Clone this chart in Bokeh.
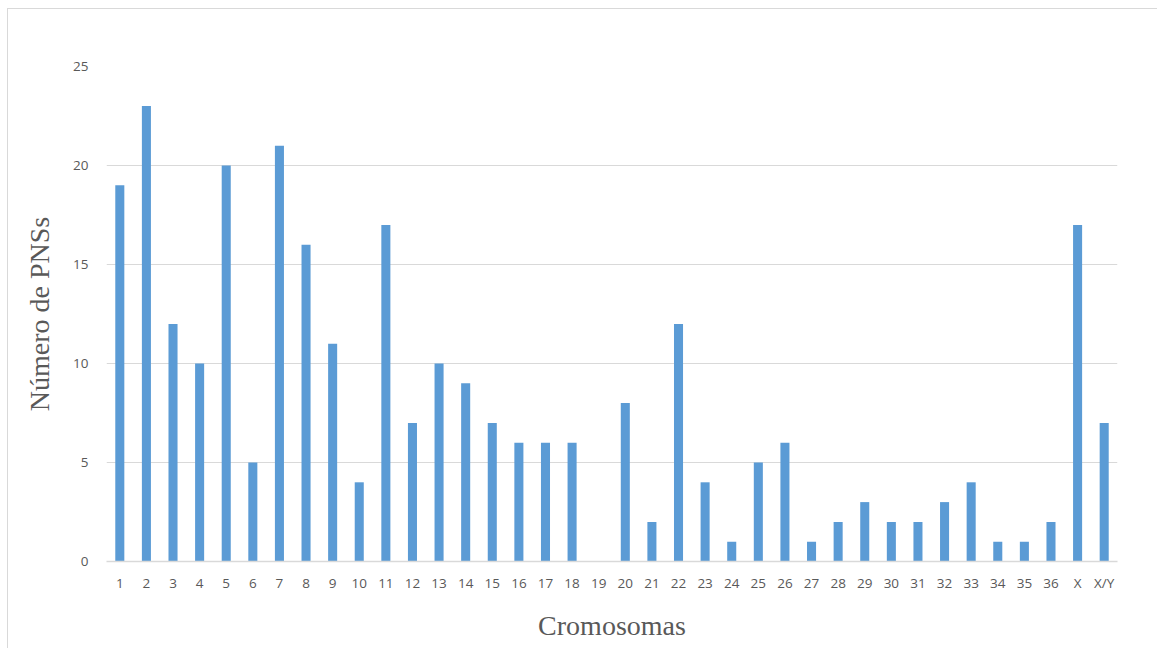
from bokeh.plotting import figure
from bokeh.models import ColumnDataSource, FactorRange, Range1d
from bokeh.embed import file_html
from bokeh.resources import INLINE

categories = [str(i) for i in range(1, 37)] + ["X", "X/Y"]
counts = [19, 23, 12, 10, 20, 5, 21, 16, 11, 4, 17, 7, 10, 9, 7, 6, 6, 6, 0, 8,
          2, 12, 4, 1, 5, 6, 1, 2, 3, 2, 2, 3, 4, 1, 1, 2, 17, 7]
y_ticks = [0, 5, 10, 15, 20, 25]

src = ColumnDataSource(dict(cat=categories, n=counts))

p = figure(x_range=FactorRange(*categories, range_padding=0),
           y_range=Range1d(0, 25),
           width=1150, height=640,
           output_backend="svg", toolbar_location=None,
           min_border_left=98, min_border_right=41,
           min_border_top=57, min_border_bottom=88)
p.margin = (8, 0, 0, 7)
p.styles = {"border-left": "1px solid #d9d9d9", "border-top": "1px solid #d9d9d9"}

p.vbar(x="cat", top="n", width=0.34, source=src, color="#5B9BD5", line_color=None)

p.outline_line_color = None
p.background_fill_color = "white"
p.border_fill_color = "white"

p.yaxis.ticker = y_ticks
p.ygrid.ticker = y_ticks
p.ygrid.grid_line_color = "#d9d9d9"
p.xgrid.grid_line_color = None

for ax in (p.xaxis, p.yaxis):
    ax.major_tick_line_color = None
    ax.minor_tick_line_color = None
    ax.major_label_text_font = "Open Sans"
    ax.major_label_text_font_size = "13.5px"
    ax.major_label_text_color = "#595959"
    ax.axis_label_text_font = "Liberation Serif"
    ax.axis_label_text_font_size = "28px"
    ax.axis_label_text_font_style = "normal"
    ax.axis_label_text_color = "#595959"

p.yaxis.axis_line_color = None
p.xaxis.axis_line_color = "#d9d9d9"
p.xaxis.axis_line_width = 1.5
p.yaxis.major_label_standoff = 12
p.xaxis.major_label_standoff = 6
p.yaxis.axis_label = "Número de PNSs"
p.xaxis.axis_label = "Cromosomas"
p.yaxis.axis_label_standoff = 15
p.xaxis.axis_label_standoff = 15

open("out.html", "w").write(file_html(p, INLINE))
